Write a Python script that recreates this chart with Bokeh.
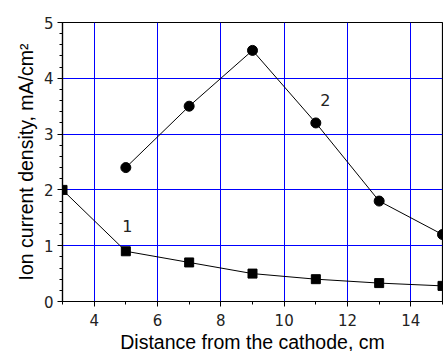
from bokeh.plotting import figure
from bokeh.models import Range1d, SingleIntervalTicker, ColumnDataSource, Label, Title
from bokeh.embed import file_html
from bokeh.resources import INLINE

# Data
x1 = [3, 5, 7, 9, 11, 13, 15]
y1 = [2.0, 0.9, 0.7, 0.5, 0.4, 0.33, 0.28]
x2 = [5, 7, 9, 11, 13, 15]
y2 = [2.4, 3.5, 4.5, 3.2, 1.8, 1.2]
labels = ["1", "2"]
label_x = [5.05, 11.3]
label_y = [1.36, 3.62]
x_title = "Distance from the cathode, cm"
y_title = "Ion current density, mA/cm\u00b2"

p = figure(width=443, height=351, output_backend="svg", toolbar_location=None,
           x_range=Range1d(3, 15), y_range=Range1d(0, 5),
           min_border_left=62, min_border_right=1, min_border_top=22, min_border_bottom=50)
p.frame_width = 380
p.frame_height = 279
p.background_fill_color = "white"
p.border_fill_color = "white"
p.outline_line_color = "black"
p.outline_line_width = 1.2

xt = SingleIntervalTicker(interval=2, num_minor_ticks=2)
yt = SingleIntervalTicker(interval=1, num_minor_ticks=5)
p.xaxis.ticker = xt
p.yaxis.ticker = yt
p.xgrid.ticker = xt
p.ygrid.ticker = yt
for g in (p.xgrid, p.ygrid):
    g.grid_line_color = "#0000ff"
    g.grid_line_width = 1
    g.grid_line_alpha = 1.0

for ax in (p.xaxis, p.yaxis):
    ax.axis_line_color = "black"
    ax.axis_line_width = 1.2
    ax.major_tick_line_color = "black"
    ax.minor_tick_line_color = "black"
    ax.major_tick_out = 5
    ax.major_tick_in = 0
    ax.minor_tick_out = 3
    ax.minor_tick_in = 0
    ax.major_label_text_font = "DejaVu Sans"
    ax.major_label_text_font_size = "15px"
    ax.major_label_text_color = "#222222"
    ax.axis_label_text_font = "Liberation Sans"
    ax.axis_label_text_font_size = "19.5px"
    ax.axis_label_text_font_style = "normal"
    ax.axis_label_text_color = "black"

p.xaxis.axis_label = x_title
p.xaxis.major_label_standoff = 7
p.yaxis.major_label_standoff = 4
p.xaxis.axis_label_standoff = 2

# y title as a left-side Title so it can be shifted below the frame centre
yt_title = Title(text=y_title, align="center", offset=19, standoff=7,
                 text_font="Liberation Sans", text_font_size="19.5px",
                 text_font_style="normal", text_color="black")
p.add_layout(yt_title, "left")

s1 = ColumnDataSource(dict(x=x1, y=y1))
s2 = ColumnDataSource(dict(x=x2, y=y2))
p.line("x", "y", source=s1, line_color="black", line_width=1)
p.scatter("x", "y", source=s1, marker="square", size=9, fill_color="black", line_color="black")
p.line("x", "y", source=s2, line_color="black", line_width=1)
p.scatter("x", "y", source=s2, marker="circle", size=10, fill_color="black", line_color="black")

for t, lx, ly in zip(labels, label_x, label_y):
    p.add_layout(Label(x=lx, y=ly, text=t, text_font="DejaVu Sans", text_font_size="16px",
                       text_align="center", text_baseline="middle", text_color="#222222"))

open("out.html", "w").write(file_html(p, INLINE))
